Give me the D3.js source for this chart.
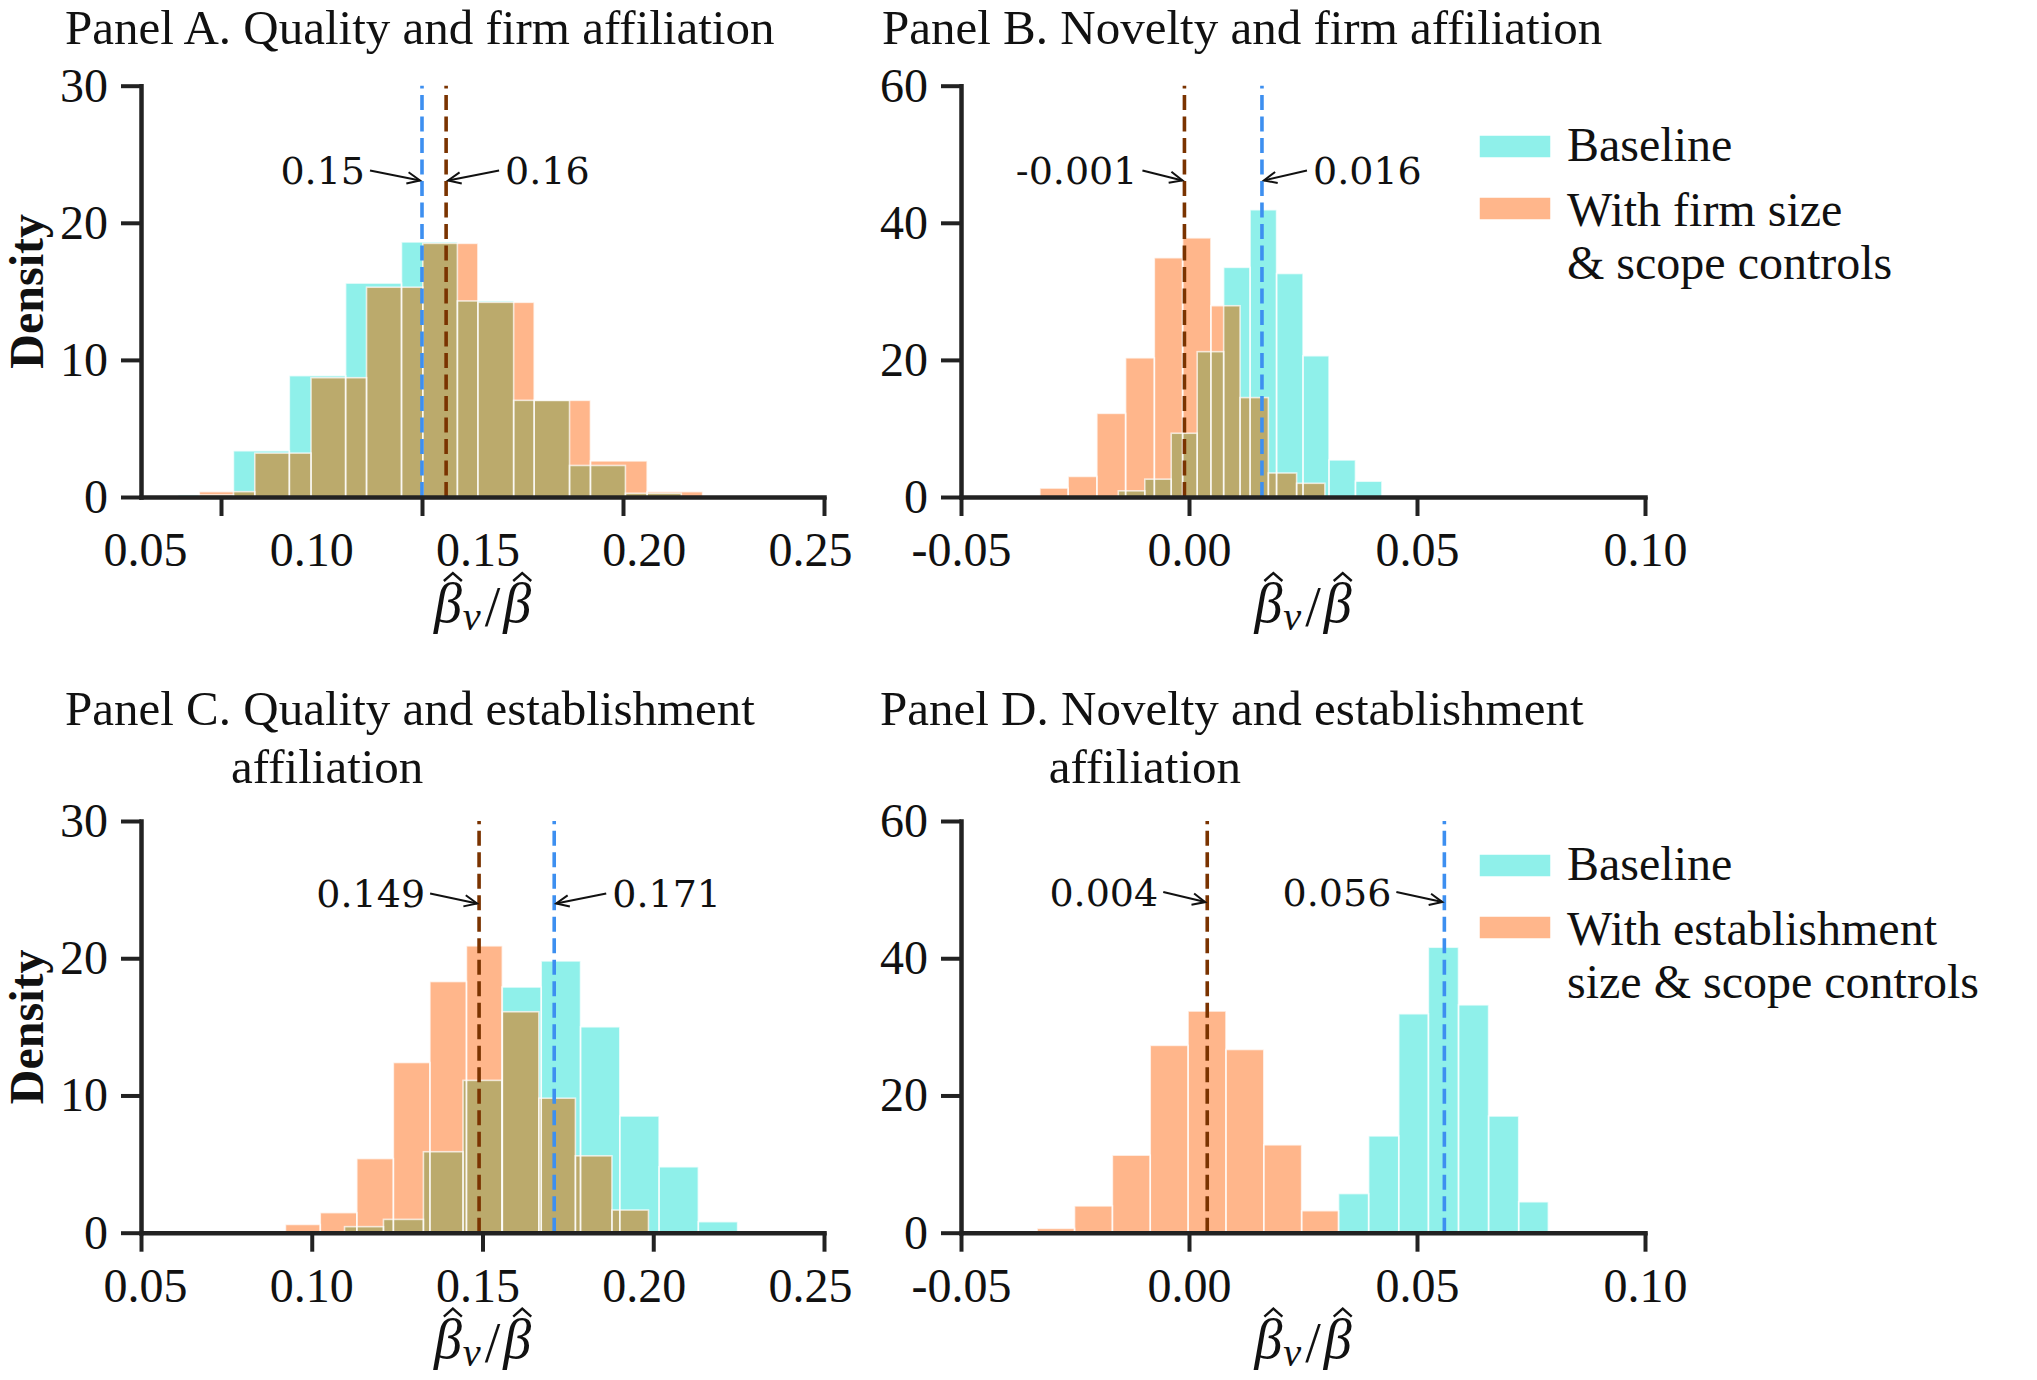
<!DOCTYPE html>
<html>
<head>
<meta charset="utf-8">
<script src="https://cdn.jsdelivr.net/npm/d3@7"></script>
<style>
  body { margin: 0; background: #fff; }
</style>
</head>
<body>
<svg id="chart" width="2037" height="1380"></svg>
<script>
// ---------------- data ----------------
// Panel A: quality and firm affiliation
var aBaseEdges   = [0.0893, 0.1031, 0.1170, 0.1310, 0.1449, 0.1588, 0.1728, 0.1867, 0.2006, 0.2145];
var aBaseDensity = [0.15, 3.37, 8.85, 15.6, 18.6, 14.3, 7.05, 2.3, 0.27];
var aCtrlEdges   = [0.0946, 0.1084, 0.1224, 0.1362, 0.1502, 0.1639, 0.1779, 0.1919, 0.2060, 0.2198];
var aCtrlDensity = [0.39, 3.2, 8.7, 15.3, 18.5, 14.2, 7.05, 2.63, 0.39];

// Panel B: novelty and firm affiliation
var bBaseEdges   = [-0.0155, -0.0097, -0.0039, 0.0018, 0.0076, 0.0134, 0.0192, 0.0250, 0.0307, 0.0365, 0.0423];
var bBaseDensity = [0.9, 2.6, 9.3, 21.2, 33.5, 41.9, 32.6, 20.6, 5.4, 2.3];
var bCtrlEdges   = [-0.0327, -0.0265, -0.0202, -0.0139, -0.0076, -0.0014, 0.0048, 0.0112, 0.0174, 0.0236, 0.0298];
var bCtrlDensity = [1.3, 3.0, 12.2, 20.3, 34.9, 37.8, 27.9, 14.5, 3.5, 2.0];

// Panel C: quality and establishment affiliation
var cBaseEdges   = [0.1096, 0.1210, 0.1327, 0.1443, 0.1557, 0.1672, 0.1787, 0.1902, 0.2017, 0.2132, 0.2247];
var cBaseDensity = [0.44, 0.97, 5.9, 11.1, 17.9, 19.8, 15.0, 8.5, 4.8, 0.8];
var cCtrlEdges   = [0.0923, 0.1025, 0.1132, 0.1239, 0.1346, 0.1453, 0.1558, 0.1665, 0.1772, 0.1879, 0.1986];
var cCtrlDensity = [0.6, 1.46, 5.4, 12.4, 18.3, 20.9, 16.1, 9.8, 5.6, 1.65];

// Panel D: novelty and establishment affiliation
var dBaseEdges   = [0.0328, 0.0394, 0.0460, 0.0525, 0.0591, 0.0657, 0.0723, 0.0788];
var dBaseDensity = [5.7, 14.1, 31.9, 41.6, 33.2, 17.0, 4.5];
var dCtrlEdges   = [-0.0333, -0.0251, -0.0168, -0.0085, -0.0002, 0.0081, 0.0164, 0.0247, 0.0328];
var dCtrlDensity = [0.63, 3.9, 11.3, 27.3, 32.3, 26.7, 12.8, 3.2];

// mean lines: [baseline, with controls]
var aMeans = [0.150, 0.156], aMeanLabels = ['0.15', '0.16'];
var bMeans = [0.016, -0.001], bMeanLabels = ['0.016', '-0.001'];
var cMeans = [0.171, 0.149], cMeanLabels = ['0.171', '0.149'];
var dMeans = [0.056, 0.004], dMeanLabels = ['0.056', '0.004'];

// ticks
var qualityTicks = [0.05, 0.10, 0.15, 0.20, 0.25];
var aTickMarks   = [0.10, 0.15, 0.20, 0.25];   // panel A marks sit off the printed labels
var noveltyTicks = [-0.05, 0.00, 0.05, 0.10];
var densityTicks30 = [0, 10, 20, 30];
var densityTicks60 = [0, 20, 40, 60];

var legendFirm = ['Baseline', ['With firm size', '& scope controls']];
var legendEst  = ['Baseline', ['With establishment', 'size & scope controls']];

// ---------------- style ----------------
var TEAL = '#8ff0ea', ORANGE = '#ffb68b', OLIVE = '#bbaa6c';
var BLUE = '#3d8ff0', BROWN = '#7a3300', INK = '#222';
var SERIF = "'Liberation Serif', 'Times New Roman', serif";
var DEJAVU = "'DejaVu Serif', serif";

var svg = d3.select('#chart');
svg.append('rect').attr('width', 2037).attr('height', 1380).attr('fill', '#fff');

var panels = [
  { title: ['Panel A. Quality and firm affiliation'], tx: 65, ty: 44,
    box: { x0: 141, x1: 824, y0: 85.7, y1: 497 },
    xDomain: [0.0801, 0.25], xTicks: aTickMarks, labelDomain: [0.05, 0.25], xLabels: qualityTicks,
    yMax: 30, yTicks: densityTicks30, ylabel: true,
    base: [aBaseEdges, aBaseDensity], ctrl: [aCtrlEdges, aCtrlDensity],
    means: aMeans, meanLabels: aMeanLabels, annY: 22.8,
    ann: [{ side: 'left', off: 57 }, { side: 'right', off: 59 }] },
  { title: ['Panel B. Novelty and firm affiliation'], tx: 882, ty: 44,
    box: { x0: 961, x1: 1645, y0: 85.7, y1: 497 },
    xDomain: [-0.05, 0.10], xTicks: noveltyTicks,
    yMax: 60, yTicks: densityTicks60,
    base: [bBaseEdges, bBaseDensity], ctrl: [bCtrlEdges, bCtrlDensity],
    means: bMeans, meanLabels: bMeanLabels, annY: 45.6,
    ann: [{ side: 'right', off: 51 }, { side: 'left', off: 47 }],
    legend: legendFirm, ly: 135 },
  { title: ['Panel C. Quality and establishment', 'affiliation'], tx: 65, ty: 725,
    box: { x0: 141, x1: 824, y0: 821, y1: 1232.7 },
    xDomain: [0.05, 0.25], xTicks: qualityTicks, labelDomain: [0.05, 0.25], xLabels: qualityTicks,
    yMax: 30, yTicks: densityTicks30, ylabel: true,
    base: [cBaseEdges, cBaseDensity], ctrl: [cCtrlEdges, cCtrlDensity],
    means: cMeans, meanLabels: cMeanLabels, annY: 23.7,
    ann: [{ side: 'right', off: 58 }, { side: 'left', off: 54 }] },
  { title: ['Panel D. Novelty and establishment', 'affiliation'], tx: 880, ty: 725,
    box: { x0: 961, x1: 1645, y0: 821, y1: 1232.7 },
    xDomain: [-0.05, 0.10], xTicks: noveltyTicks,
    yMax: 60, yTicks: densityTicks60,
    base: [dBaseEdges, dBaseDensity], ctrl: [dCtrlEdges, dCtrlDensity],
    means: dMeans, meanLabels: dMeanLabels, annY: 47.6,
    ann: [{ side: 'left', off: 53 }, { side: 'left', off: 49 }],
    legend: legendEst, ly: 854 }
];

function toBins(pair) {
  return pair[1].map(function(d, i) { return { x0: pair[0][i], x1: pair[0][i + 1], h: d }; });
}

function fmtTick(d) { return d3.format('.2f')(d).replace('\u2212', '-'); }

function styleAxis(g) {
  g.attr('font-family', SERIF).attr('font-size', 48).attr('color', INK);
  g.select('.domain').attr('stroke-width', 4.5).attr('stroke-linecap', 'square');
  g.selectAll('.tick line').attr('stroke-width', 4);
  g.selectAll('.tick text').attr('fill', '#111');
}

// beta-hat_nu / beta-hat, built piece by piece so the hats can be placed
function mathLabel(g, cx, base) {
  var S = 56, grp = g.append('g').attr('font-family', SERIF).attr('fill', '#111');
  var pos = 0, hats = [];
  function piece(txt, size, dy, italic, gapAfter, hat) {
    var t = grp.append('text').attr('font-size', size).attr('x', pos).attr('y', base + dy)
      .attr('font-style', italic ? 'italic' : 'normal').text(txt);
    var w = t.node().getComputedTextLength();
    if (hat) hats.push(pos + w / 2 + S * 0.09);
    pos += w + gapAfter;
  }
  piece('\u03b2', S, 0, true, 1, true);
  piece('\u03bd', S * 0.72, 8, true, 4, false);
  piece('/', S, 4, false, 3, false);
  piece('\u03b2', S, 0, true, 0, true);
  hats.forEach(function(hx) {
    grp.append('path')
      .attr('d', 'M' + (hx - 9) + ',' + (base - 41) + 'L' + hx + ',' + (base - 49) + 'L' + (hx + 9) + ',' + (base - 41))
      .attr('fill', 'none').attr('stroke', '#111').attr('stroke-width', 2.4);
  });
  grp.attr('transform', 'translate(' + (cx - pos / 2) + ',0)');
}

panels.forEach(function(p) {
  var g = svg.append('g');
  var x = d3.scaleLinear().domain(p.xDomain).range([p.box.x0, p.box.x1]);
  var y = d3.scaleLinear().domain([0, p.yMax]).range([p.box.y1, p.box.y0]);

  // title
  g.append('text').attr('font-family', SERIF).attr('font-size', 49).attr('fill', '#111')
    .attr('x', p.tx).attr('y', p.ty).text(p.title[0]);
  if (p.title.length > 1) {
    var lead = g.append('text').attr('font-family', SERIF).attr('font-size', 49)
      .attr('visibility', 'hidden').text(p.title[0].split('. ')[0] + '. ');
    var indent = lead.node().getComputedTextLength();
    lead.remove();
    g.append('text').attr('font-family', SERIF).attr('font-size', 49).attr('fill', '#111')
      .attr('x', p.tx + indent).attr('y', p.ty + 58).text(p.title[1]);
  }

  // histograms
  var baseBins = toBins(p.base), ctrlBins = toBins(p.ctrl);
  var overlaps = [];
  baseBins.forEach(function(a) {
    ctrlBins.forEach(function(b) {
      var lo = Math.max(a.x0, b.x0), hi = Math.min(a.x1, b.x1);
      if (hi > lo) overlaps.push({ x0: lo, x1: hi, h: Math.min(a.h, b.h) });
    });
  });
  function bars(data, fill, stroke) {
    g.append('g').selectAll('rect').data(data).enter().append('rect')
      .attr('x', function(d) { return x(d.x0); })
      .attr('width', function(d) { return x(d.x1) - x(d.x0); })
      .attr('y', function(d) { return y(d.h); })
      .attr('height', function(d) { return y(0) - y(d.h); })
      .attr('fill', fill)
      .attr('stroke', stroke ? '#fff' : 'none')
      .attr('stroke-opacity', 0.7)
      .attr('stroke-width', 1.6);
  }
  bars(baseBins, TEAL, false);
  bars(ctrlBins, ORANGE, false);
  bars(overlaps, OLIVE, false);
  bars(baseBins, 'none', true);
  bars(ctrlBins, 'none', true);

  // mean lines
  var colors = [BLUE, BROWN];
  p.means.forEach(function(m, i) {
    g.append('line')
      .attr('x1', x(m)).attr('x2', x(m))
      .attr('y1', y(0)).attr('y2', y(p.yMax))
      .attr('stroke', colors[i]).attr('stroke-width', 3.6)
      .attr('stroke-dasharray', '15 6.5');
  });

  // annotations with arrows
  p.means.forEach(function(m, i) {
    var a = p.ann[i];
    var lx = x(m), by = y(p.annY);
    var tx = a.side === 'left' ? lx - a.off : lx + a.off;
    g.append('text').attr('font-family', DEJAVU).attr('font-size', 38).attr('fill', '#111')
      .attr('text-anchor', a.side === 'left' ? 'end' : 'start')
      .attr('x', tx).attr('y', by).text(p.meanLabels[i]);
    var sx = a.side === 'left' ? tx + 5 : tx - 6;
    var ex = a.side === 'left' ? lx - 2 : lx + 2;
    var sy = by - 14, ey = by - 4;
    var ang = Math.atan2(ey - sy, ex - sx), L = 14, spread = 0.42;
    g.append('line').attr('x1', sx).attr('y1', sy).attr('x2', ex).attr('y2', ey)
      .attr('stroke', '#111').attr('stroke-width', 2);
    g.append('path')
      .attr('d', 'M' + (ex - L * Math.cos(ang - spread)) + ',' + (ey - L * Math.sin(ang - spread)) +
                 'L' + ex + ',' + ey +
                 'L' + (ex - L * Math.cos(ang + spread)) + ',' + (ey - L * Math.sin(ang + spread)))
      .attr('fill', 'none').attr('stroke', '#111').attr('stroke-width', 2);
  });

  // axes
  var yAxis = g.append('g').attr('transform', 'translate(' + p.box.x0 + ',0)')
    .call(d3.axisLeft(y).tickValues(p.yTicks).tickSize(20).tickPadding(13).tickSizeOuter(0)
      .tickFormat(d3.format('d')));
  styleAxis(yAxis);

  var xAxis = g.append('g').attr('transform', 'translate(0,' + p.box.y1 + ')');
  if (p.labelDomain) {
    // printed labels drift from the tick marks in the original; place them on their own scale
    xAxis.call(d3.axisBottom(x).tickValues(p.xTicks).tickSize(19).tickSizeOuter(0).tickFormat(''));
    styleAxis(xAxis);
    var xl = d3.scaleLinear().domain(p.labelDomain).range([p.box.x0 + 4, p.box.x1 - 14]);
    var lab = g.append('g').attr('transform', 'translate(0,' + p.box.y1 + ')')
      .call(d3.axisBottom(xl).tickValues(p.xLabels).tickSize(0).tickPadding(35).tickFormat(fmtTick));
    styleAxis(lab);
    lab.select('.domain').remove();
    lab.selectAll('.tick line').remove();
  } else {
    xAxis.call(d3.axisBottom(x).tickValues(p.xTicks).tickSize(19).tickPadding(16).tickSizeOuter(0)
      .tickFormat(fmtTick));
    styleAxis(xAxis);
  }

  mathLabel(g, (p.box.x0 + p.box.x1) / 2, p.box.y1 + 125);

  // y label
  if (p.ylabel) {
    g.append('text').attr('font-family', SERIF).attr('font-size', 48).attr('font-weight', 'bold')
      .attr('fill', '#111').attr('text-anchor', 'middle')
      .attr('transform', 'translate(43,' + ((p.box.y0 + p.box.y1) / 2) + ') rotate(-90)')
      .text('Density');
  }

  // legend
  if (p.legend) {
    var lg = g.append('g').attr('transform', 'translate(1479,' + p.ly + ')');
    lg.append('rect').attr('width', 72).attr('height', 23).attr('fill', TEAL)
      .attr('stroke', '#fff').attr('stroke-width', 1.5);
    lg.append('rect').attr('y', 62).attr('width', 72).attr('height', 23).attr('fill', ORANGE)
      .attr('stroke', '#fff').attr('stroke-width', 1.5);
    lg.append('text').attr('font-family', SERIF).attr('font-size', 48).attr('fill', '#111')
      .attr('x', 88).attr('y', 26).text(p.legend[0]);
    p.legend[1].forEach(function(line, i) {
      lg.append('text').attr('font-family', SERIF).attr('font-size', 48).attr('fill', '#111')
        .attr('x', 88).attr('y', 91 + i * 53).text(line);
    });
  }
});
</script>
</body>
</html>
